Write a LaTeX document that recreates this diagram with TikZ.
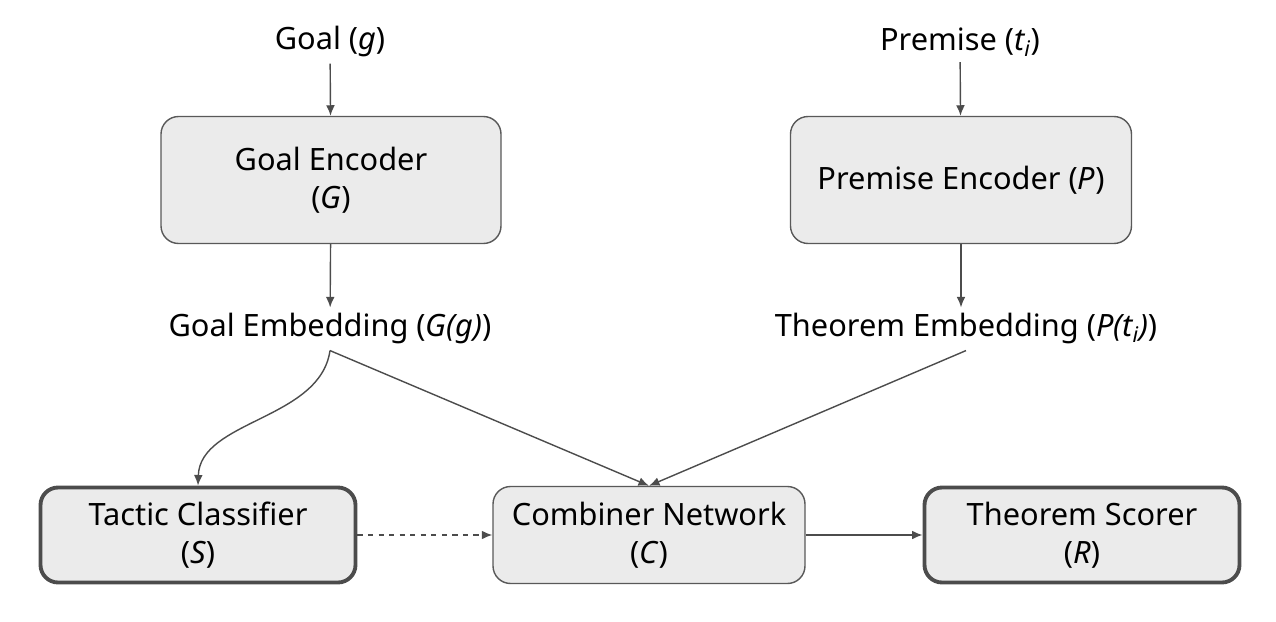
\documentclass[tikz,border=0pt]{standalone}
\usepackage{fontspec}
\setmainfont{Noto Sans}
\usetikzlibrary{positioning}
\usetikzlibrary{arrows.meta}
\begin{document}
\begin{tikzpicture}[x=0.02cm, y=-0.02cm,
    font=\fontsize{17.5pt}{21.5pt}\selectfont,
    block/.style={rectangle, rounded corners=10pt, draw=black!65, fill=black!8, line width=0.8pt, align=center},
    outblock/.style={block, line width=2.2pt, draw=black!70},
    flow/.style={-{Latex[length=6pt,width=5pt]}, draw=black!70, line width=0.8pt}]

    \useasboundingbox (0,0) rectangle (1276,622);

    % Inputs
    \node (goal) at (330,42) {Goal (\textit{g})};
    \node (premise) at (960,42) {Premise (\textit{t\textsubscript{i}})};

    % Encoders
    \node[block, minimum width=340*0.02cm, minimum height=127*0.02cm] (genc) at (331,180) {Goal Encoder\\(\textit{G})};
    \node[block, minimum width=341*0.02cm, minimum height=127*0.02cm] (penc) at (961,180) {Premise Encoder (\textit{P})};

    % Embeddings
    \node (gemb) at (330,329) {Goal Embedding (\textit{G(g)})};
    \node (temb) at (966,329) {Theorem Embedding (\textit{P(t\textsubscript{i})})};

    % Heads
    \node[outblock, minimum width=315*0.02cm, minimum height=95*0.02cm] (tactic) at (198,535) {Tactic Classifier\\(\textit{S})};
    \node[block, minimum width=312*0.02cm, minimum height=97*0.02cm] (comb) at (649,535) {Combiner Network\\(\textit{C})};
    \node[outblock, minimum width=315*0.02cm, minimum height=95*0.02cm] (scorer) at (1082,535) {Theorem Scorer\\(\textit{R})};

    % Connectors
    \draw[flow] (goal) -- (genc);
    \draw[flow] (premise) -- (penc);
    \draw[flow] (genc) -- (gemb);
    \draw[flow] (penc.south) -- (penc.south |- temb.north);
    \draw[flow] (gemb.south) .. controls (320,420) and (200,420) .. (tactic.north);
    \draw[flow] (gemb.south) -- (comb.north);
    \draw[flow] (temb.south) -- (comb.north);
    \draw[flow, dashed] (tactic) -- (comb);
    \draw[flow] (comb) -- (scorer);
\end{tikzpicture}
\end{document}
